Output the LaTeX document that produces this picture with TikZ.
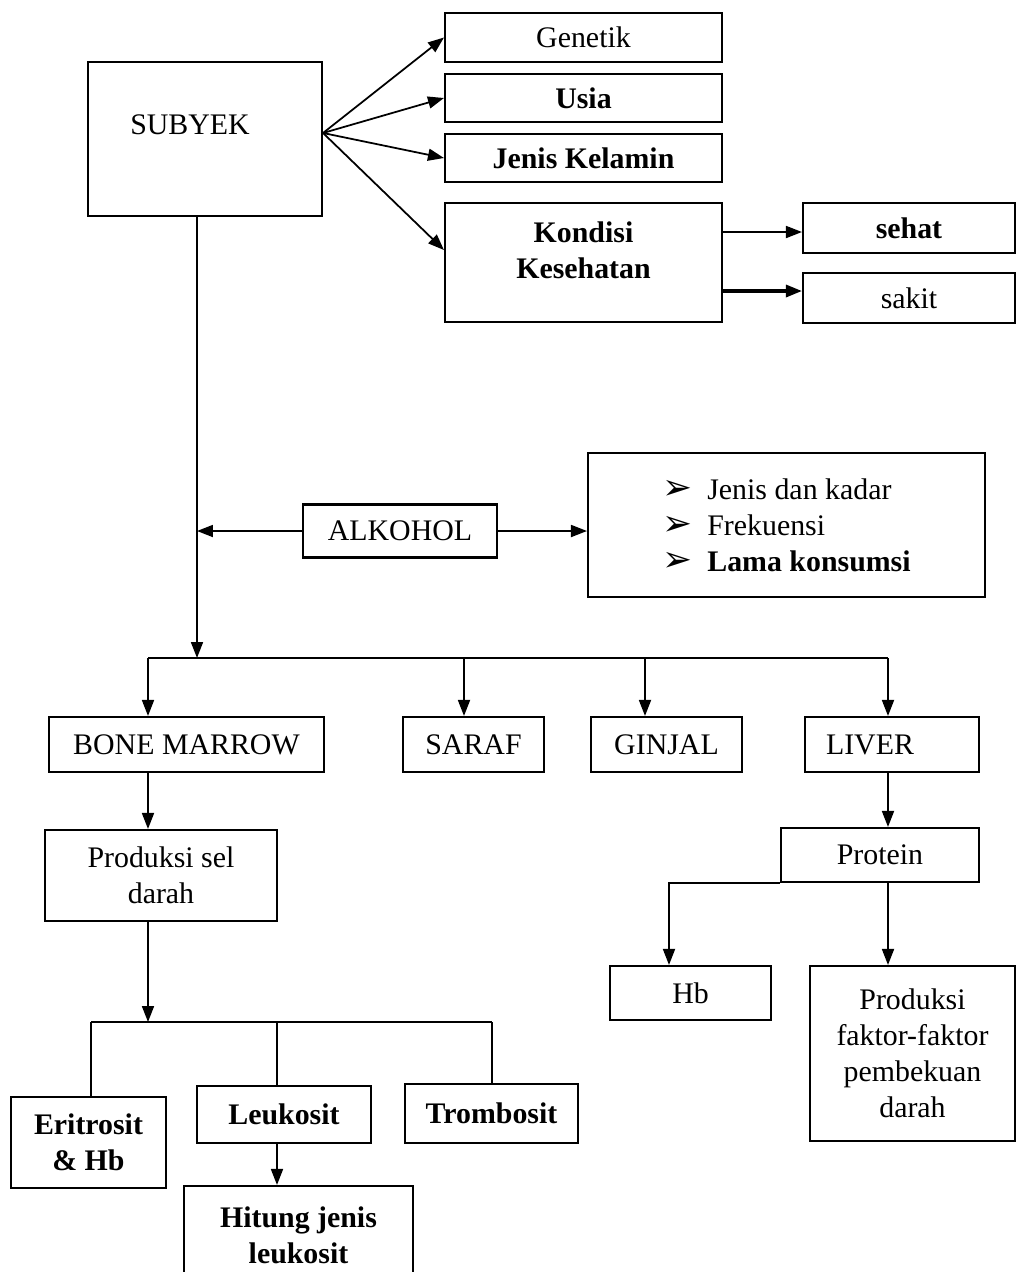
\documentclass[tikz,border=0pt]{standalone}
\usepackage{fontspec}
\setmainfont{Liberation Serif}
\newfontfamily\dejavu{DejaVu Sans}
\usetikzlibrary{positioning,arrows.meta}
\newcommand{\txt}{\fontsize{17}{20.5}\selectfont}
\newcommand{\bul}{{\dejavu\scalebox{1.2}{\char"27A2}}\hspace{0.3cm}}
\tikzset{
  box/.style={draw, line width=1.2pt, inner sep=0pt, align=center},
  bold/.style={font=\txt\bfseries},
  arr/.style={line width=1pt, -{Triangle[length=0.32cm,width=0.24cm]}},
  ln/.style={line width=1pt}
}

\begin{document}
\begin{tikzpicture}[x=0.02cm,y=-0.02cm,font=\txt]
\useasboundingbox (0,0) rectangle (1016,1272);

% subyek and its factors
\draw(205,139) node[box,minimum width=4.68cm,minimum height=3.08cm] (sub) {};
\draw([xshift=-0.3cm,yshift=0.28cm]sub.center) node (subT) {SUBYEK};
\draw(583.5,37.5) node[box,minimum width=5.54cm,minimum height=0.98cm] (gen) {Genetik};
\draw(583.5,98) node[box,bold,minimum width=5.54cm,minimum height=0.96cm] (usia) {Usia};
\draw(583.5,158) node[box,bold,minimum width=5.54cm,minimum height=0.96cm] (jk) {Jenis Kelamin};
\draw(583.5,262.5) node[box,minimum width=5.54cm,minimum height=2.38cm] (kon) {};
\draw([yshift=0.25cm]kon.center) node[bold,align=center] (konT) {Kondisi\\Kesehatan};
\draw(909,228) node[box,bold,minimum width=4.24cm,minimum height=1cm] (seh) {sehat};
\draw(909,298) node[box,minimum width=4.24cm,minimum height=1cm] (sak) {sakit};

\coordinate (fan) at ([yshift=0.12cm]sub.east);
\foreach \n in {gen,usia,jk}
  \draw[arr] (fan) -- (\n.west);
\draw[arr] (fan) -- ([yshift=0.25cm]kon.west);
\coordinate (s1) at ([yshift=-0.08cm]seh.west);
\coordinate (s2) at ([yshift=0.14cm]sak.west);
\draw[arr] (kon.east |- s1) -- (s1);
\draw[arr,line width=1.8pt] (kon.east |- s2) -- (s2);

% alkohol
\coordinate (bus) at (197,658);
\draw[arr] (sub.south -| bus) -- (bus);
\draw(400,531) node[box,minimum width=3.88cm,minimum height=1.06cm] (alk) {ALKOHOL};
\draw(786.5,525) node[box,minimum width=7.94cm,minimum height=2.88cm,align=left] (kons)
  {\bul Jenis dan kadar\\ \bul Frekuensi\\ \bul\textbf{Lama konsumsi}};
\draw[arr] (alk.west) -- (alk.west -| bus);
\draw[arr] (alk.east) -- (alk.east -| kons.west);

% organs
\coordinate (b1) at (148,658);
\coordinate (b2) at (464,658);
\coordinate (b3) at (645,658);
\coordinate (b4) at (888,658);
\draw[ln] (b1) -- (b4);
\draw(186.5,744.5) node[box,minimum width=5.5cm,minimum height=1.1cm] (bm) {BONE MARROW};
\draw(473.5,744.5) node[box,minimum width=2.82cm,minimum height=1.1cm] (saraf) {SARAF};
\draw(666.5,744.5) node[box,minimum width=3.02cm,minimum height=1.1cm] (ginjal) {GINJAL};
\draw(892,744.5) node[box,minimum height=1.1cm,text width=2.64cm,inner xsep=0.42cm,align=left] (liver) {LIVER};
\foreach \b/\n in {b1/bm,b2/saraf,b3/ginjal,b4/liver}
  \draw[arr] (\b) -- (\b |- \n.north);

% bone marrow branch
\draw(161,875.5) node[box,minimum width=4.64cm,minimum height=1.82cm] (sel) {Produksi sel\\darah};
\draw[arr] (b1 |- bm.south) -- (b1 |- sel.north);
\coordinate (c0) at (148,1022);
\coordinate (c1) at (91,1022);
\coordinate (c2) at (277,1022);
\coordinate (c3) at (492,1022);
\draw[arr] (c0 |- sel.south) -- (c0);
\draw[ln] (c1) -- (c3);
\draw(88.5,1142.5) node[box,bold,minimum width=3.1cm,minimum height=1.82cm] (eri) {Eritrosit\\\& Hb};
\draw(284,1114.5) node[box,bold,minimum width=3.48cm,minimum height=1.14cm] (leu) {Leukosit};
\draw(491.5,1113.5) node[box,bold,minimum width=3.46cm,minimum height=1.18cm] (trom) {Trombosit};
\foreach \c/\n in {c1/eri,c2/leu,c3/trom}
  \draw[ln] (\c) -- (\c |- \n.north);
\draw(298.5,1235) node[box,bold,minimum width=4.58cm,minimum height=1.96cm] (hit) {Hitung jenis\\leukosit};
\draw[arr] (c2 |- leu.south) -- (c2 |- hit.north);

% liver branch
\draw(880,855) node[box,minimum width=3.96cm,minimum height=1.08cm] (prot) {Protein};
\draw[arr] (b4 |- liver.south) -- (b4 |- prot.north);
\draw(690.5,993) node[box,minimum width=3.22cm,minimum height=1.08cm] (hb) {Hb};
\draw(912.5,1053.5) node[box,minimum width=4.1cm,minimum height=3.5cm] (fak) {Produksi\\faktor-faktor\\pembekuan\\darah};
\coordinate (d1) at (669,882);
\draw[arr] (prot.south west) -| (d1 |- hb.north);
\draw[arr] (b4 |- prot.south) -- (b4 |- fak.north);
\end{tikzpicture}
\end{document}
